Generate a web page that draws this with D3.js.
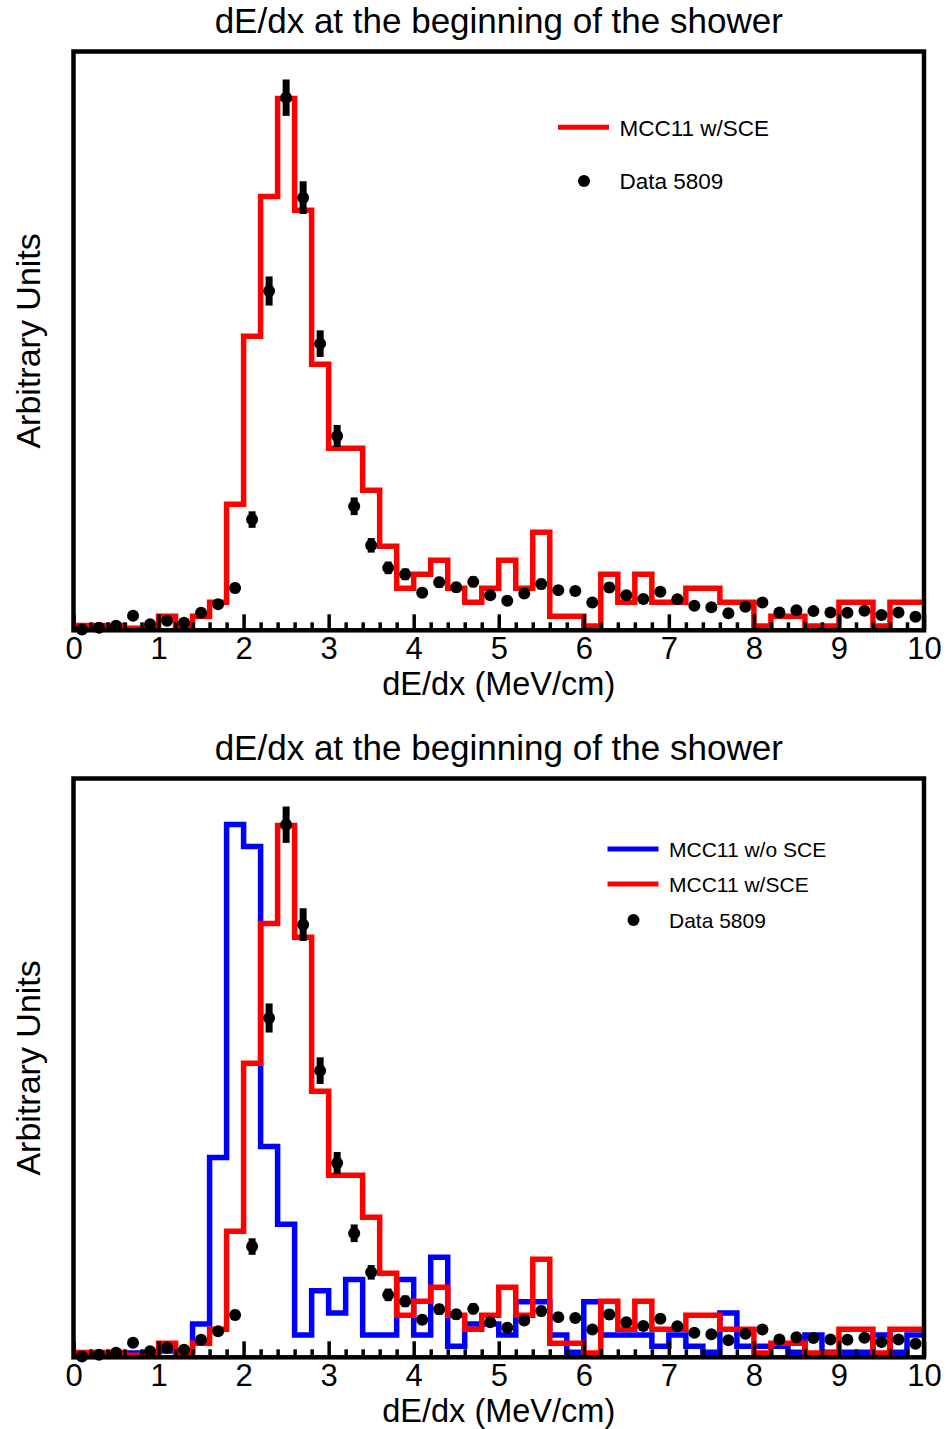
<!DOCTYPE html>
<html>
<head>
<meta charset="utf-8">
<script src="https://cdn.jsdelivr.net/npm/d3@7/dist/d3.min.js"></script>
<style>
  body { margin: 0; background: #fff; }
  svg { display: block; }
  text { font-family: "Liberation Sans", Arial, Helvetica, sans-serif; fill: #000; }
</style>
</head>
<body>
<svg id="chart" width="948" height="1429"></svg>
<script>
// dE/dx histogram: 50 bins of 0.2 MeV/cm between 0 and 10
const xMin = 0, xMax = 10, binWidth = 0.2;
const tickLabels = ["0", "1", "2", "3", "4", "5", "6", "7", "8", "9", "10"];

// Simulation with space-charge effect (arbitrary units)
const mccWithSce = [
  0.35, 0.35, 0.35, 0.15, 0.15, 1, 0.3, 1, 2, 9,
  21, 31, 38, 30, 19, 13, 13, 10, 6, 3,
  4, 5, 3, 2, 3, 5, 3, 7, 1, 1,
  0.3, 4, 2, 4, 2, 2, 3, 3, 2, 2,
  0.3, 1, 1, 0.3, 0.3, 2, 2, 0.3, 2, 2
];

// Simulation without space-charge effect (arbitrary units)
const mccNoSce = [
  0.3, 0.3, 0.3, 0.3, 0.3, 0.45, 0.45, 2.38, 14.27, 38.06,
  36.5, 15.06, 9.51, 1.59, 4.76, 3.17, 5.55, 1.59, 1.59, 5.55,
  1.59, 7.14, 0.79, 2.38, 2.38, 1.59, 3.96, 3.96, 1.59, 0.36,
  3.96, 1.59, 1.59, 1.59, 0.79, 1.59, 0.79, 0.36, 3.17, 0.79,
  0.79, 0.79, 0.36, 1.59, 0.36, 0.36, 0.36, 1.59, 0.36, 1.59
];

// Run 5809 data with statistical uncertainties (arbitrary units)
const dataValues = [
  0.05, 0.18, 0.32, 1.04, 0.43, 0.68, 0.54, 1.25, 1.86, 3.02,
  7.91, 24.24, 38.05, 30.91, 20.48, 13.88, 8.86, 6.07, 4.46, 4.0,
  2.68, 3.43, 3.07, 3.46, 2.5, 2.11, 2.63, 3.3, 2.87, 2.8,
  1.99, 3.06, 2.51, 2.23, 2.75, 2.21, 1.75, 1.64, 1.21, 1.68,
  1.99, 1.28, 1.44, 1.37, 1.28, 1.25, 1.39, 1.09, 1.28, 0.96
];
const dataErrors = [
  0.05, 0.09, 0.12, 0.21, 0.14, 0.17, 0.16, 0.24, 0.29, 0.37,
  0.59, 1.04, 1.30, 1.17, 0.95, 0.79, 0.63, 0.52, 0.45, 0.42,
  0.35, 0.39, 0.37, 0.39, 0.33, 0.31, 0.34, 0.38, 0.36, 0.35,
  0.30, 0.37, 0.33, 0.32, 0.35, 0.31, 0.28, 0.27, 0.23, 0.27,
  0.30, 0.24, 0.25, 0.25, 0.24, 0.24, 0.25, 0.22, 0.24, 0.21
];
const yMax = 41.35;

const svg = d3.select("#chart");
const frame = { left: 73.5, right: 924, top: 51.5, bottom: 630.3 };
const panelOffset = 727;

const x = d3.scaleLinear().domain([xMin, xMax]).range([frame.left, frame.right]);

function histPoints(values) {
  const pts = values.map((v, i) => [xMin + i * binWidth, v]);
  pts.push([xMax, values[values.length - 1]]);
  return pts;
}

function drawPanel(g, histos, legend) {
  const y = d3.scaleLinear().domain([0, yMax]).range([frame.bottom, frame.top]);
  const line = d3.line().x(d => x(d[0])).y(d => y(d[1])).curve(d3.curveStepAfter);

  // Title
  g.append("text")
    .attr("x", (frame.left + frame.right) / 2).attr("y", 33)
    .attr("text-anchor", "middle").style("font-size", "35px")
    .text("dE/dx at the beginning of the shower");

  // Histograms
  histos.forEach(h => {
    g.append("path")
      .datum(histPoints(h.values))
      .attr("d", line)
      .attr("fill", "none")
      .attr("stroke", h.color)
      .attr("stroke-width", 5.5)
      .attr("stroke-linejoin", "miter")
      .attr("stroke-linecap", "butt");
  });

  // Data points with error bars
  const centers = dataValues.map((v, i) => ({ c: xMin + (i + 0.5) * binWidth, v, e: dataErrors[i] }));
  g.append("g").selectAll("line").data(centers).join("line")
    .attr("x1", d => x(d.c)).attr("x2", d => x(d.c))
    .attr("y1", d => y(Math.max(0, d.v - d.e))).attr("y2", d => y(d.v + d.e))
    .attr("stroke", "#000").attr("stroke-width", 7);
  g.append("g").selectAll("circle").data(centers).join("circle")
    .attr("cx", d => x(d.c)).attr("cy", d => y(d.v)).attr("r", 6)
    .attr("fill", "#000");

  // Frame
  g.append("rect")
    .attr("x", frame.left).attr("y", frame.top)
    .attr("width", frame.right - frame.left).attr("height", frame.bottom - frame.top)
    .attr("fill", "none").attr("stroke", "#000").attr("stroke-width", 4.5);

  // X axis: major ticks with labels, minor ticks every 0.2
  const major = d3.axisBottom(x)
    .tickValues(d3.range(0, 11, 1))
    .tickFormat((d, i) => tickLabels[i])
    .tickSizeInner(-16).tickSizeOuter(0).tickPadding(6.7);
  const gMajor = g.append("g").attr("transform", `translate(0,${frame.bottom})`).call(major);
  gMajor.select(".domain").remove();
  gMajor.selectAll(".tick line").attr("stroke", "#000").attr("stroke-width", 3.5);
  gMajor.selectAll(".tick text")
    .style("font-size", "31px").style("font-family", '"Liberation Sans", Arial, sans-serif')
    .attr("fill", "#000");

  const minorVals = d3.range(0, 50).map(i => i * binWidth).filter((v, i) => i % 5 !== 0);
  const minor = d3.axisBottom(x).tickValues(minorVals).tickFormat("")
    .tickSizeInner(-8).tickSizeOuter(0);
  const gMinor = g.append("g").attr("transform", `translate(0,${frame.bottom})`).call(minor);
  gMinor.select(".domain").remove();
  gMinor.selectAll(".tick line").attr("stroke", "#000").attr("stroke-width", 3.5);

  // Axis titles
  g.append("text")
    .attr("x", (frame.left + frame.right) / 2).attr("y", 695)
    .attr("text-anchor", "middle").style("font-size", "32.5px")
    .text("dE/dx (MeV/cm)");
  g.append("text")
    .attr("transform", `translate(40,${(frame.top + frame.bottom) / 2}) rotate(-90)`)
    .attr("text-anchor", "middle").style("font-size", "34px")
    .text("Arbitrary Units");

  // Legend
  legend.items.forEach(it => {
    if (it.type === "line") {
      g.append("line")
        .attr("x1", legend.x).attr("x2", legend.x + 51)
        .attr("y1", it.y).attr("y2", it.y)
        .attr("stroke", it.color).attr("stroke-width", 5);
    } else {
      g.append("circle").attr("cx", legend.x + 26).attr("cy", it.y).attr("r", 6).attr("fill", "#000");
    }
    g.append("text")
      .attr("x", legend.textX).attr("y", it.y + legend.baseShift)
      .style("font-size", legend.fontSize + "px")
      .text(it.label);
  });
}

const topPanel = svg.append("g");
drawPanel(topPanel,
  [{ values: mccWithSce, color: "#ff0000" }],
  {
    x: 558, textX: 619.5, fontSize: 22.5, baseShift: 8.4,
    items: [
      { type: "line", color: "#ff0000", y: 127.3, label: "MCC11 w/SCE" },
      { type: "dot", y: 181, label: "Data 5809" }
    ]
  });

const bottomPanel = svg.append("g").attr("transform", `translate(0,${panelOffset})`);
drawPanel(bottomPanel,
  [{ values: mccNoSce, color: "#0000ff" }, { values: mccWithSce, color: "#ff0000" }],
  {
    x: 607.5, textX: 669, fontSize: 21, baseShift: 7.5,
    items: [
      { type: "line", color: "#0000ff", y: 849 - panelOffset, label: "MCC11 w/o SCE" },
      { type: "line", color: "#ff0000", y: 884 - panelOffset, label: "MCC11 w/SCE" },
      { type: "dot", y: 920 - panelOffset, label: "Data 5809" }
    ]
  });
</script>
</body>
</html>
